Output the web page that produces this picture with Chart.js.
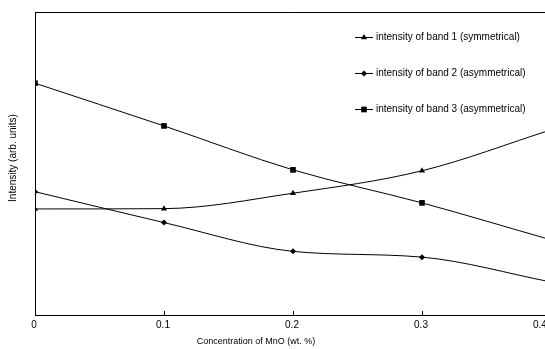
<!DOCTYPE html>
<html>
<head>
<meta charset="utf-8">
<script src="https://cdn.jsdelivr.net/npm/chart.js@4"></script>
<style>
  html, body { margin: 0; padding: 0; background: #fff; overflow: hidden; }
  #wrap { width: 545px; height: 349px; overflow: hidden; position: relative; }
  #box { width: 590px; height: 349px; }
</style>
</head>
<body>
<div id="wrap"><div id="box"><canvas id="chart"></canvas></div></div>
<script>
// concentration of MnO (wt. %)
const concentrations = [0, 0.1, 0.2, 0.3, 0.4];
// intensities in arbitrary units (0..100 over the plot height)
const band1 = [35.0, 35.1, 40.2, 47.6, 61.1];
const band2 = [40.7, 30.5, 21.0, 19.1, 10.9];
const band3 = [76.5, 62.4, 47.9, 37.0, 24.8];
const seriesNames = [
  'intensity of band 1 (symmetrical)',
  'intensity of band 2 (asymmetrical)',
  'intensity of band 3 (asymmetrical)'
];
const xTicks = [0, 0.1, 0.2, 0.3, 0.4];

const FONT = 'Arial, "Liberation Sans", sans-serif';

function makeSet(label, values, style, radius) {
  return {
    label: label,
    data: concentrations.map((x, i) => ({ x: x, y: values[i] })),
    borderColor: '#000',
    backgroundColor: '#000',
    borderWidth: 1,
    pointStyle: style,
    pointRadius: radius,
    pointBorderWidth: 0,
    cubicInterpolationMode: 'monotone',
    fill: false
  };
}

const decor = {
  id: 'decor',
  afterDraw(chart) {
    const ctx = chart.ctx;
    const a = chart.chartArea;
    const xs = chart.scales.x;
    ctx.save();
    // frame top / right
    ctx.strokeStyle = '#000';
    ctx.lineWidth = 1;
    ctx.beginPath();
    ctx.moveTo(a.left, a.top + 0.5);
    ctx.lineTo(a.right + 0.5, a.top + 0.5);
    ctx.lineTo(a.right + 0.5, a.bottom);
    ctx.stroke();
    // inward ticks + labels
    ctx.beginPath();
    xTicks.forEach(v => {
      const px = Math.round(xs.getPixelForValue(v)) + 0.5;
      ctx.moveTo(px, a.bottom);
      ctx.lineTo(px, a.bottom - 4);
    });
    ctx.stroke();
    ctx.fillStyle = '#000';
    ctx.font = '10px ' + FONT;
    ctx.textBaseline = 'middle';
    xs.ticks.forEach((t, i) => {
      const px = xs.getPixelForValue(t.value);
      const last = i === xs.ticks.length - 1;
      ctx.textAlign = last ? 'left' : 'center';
      ctx.fillText(String(t.value), last ? px - 18 : px - 1, a.bottom + 10);
    });
    // axis titles
    ctx.textAlign = 'center';
    ctx.font = '9px ' + FONT;
    ctx.fillText('Concentration of MnO (wt. %)', 256, 342);
    ctx.font = '10px ' + FONT;
    ctx.translate(13, 158);
    ctx.rotate(-Math.PI / 2);
    ctx.fillText('Intensity (arb. units)', 0, 0);
    ctx.restore();

    // legend
    ctx.save();
    const rows = [37, 73, 109];
    chart.data.datasets.forEach((ds, i) => {
      const y = rows[i] + 0.5;
      ctx.strokeStyle = '#000';
      ctx.lineWidth = 1;
      ctx.beginPath();
      ctx.moveTo(355, y);
      ctx.lineTo(373, y);
      ctx.stroke();
      ctx.fillStyle = '#000';
      Chart.helpers.drawPoint(ctx, {
        pointStyle: ds.pointStyle, radius: ds.pointRadius, rotation: 0, borderWidth: 0
      }, 364, y);
      ctx.font = '10px ' + FONT;
      ctx.textAlign = 'left';
      ctx.textBaseline = 'middle';
      ctx.fillText(ds.label, 376, y);
    });
    ctx.restore();
  }
};

new Chart(document.getElementById('chart'), {
  type: 'line',
  data: {
    datasets: [
      makeSet(seriesNames[0], band1, 'triangle', 3.5),
      makeSet(seriesNames[1], band2, 'rectRot', 3),
      makeSet(seriesNames[2], band3, 'rect', 4)
    ]
  },
  options: {
    responsive: true,
    maintainAspectRatio: false,
    animation: false,
    layout: { padding: { top: 12, right: 39, left: 0, bottom: 0 } },
    plugins: { legend: { display: false }, tooltip: { enabled: false } },
    scales: {
      x: {
        type: 'linear',
        min: 0,
        max: 0.4,
        afterFit(s) { s.height = 34; },
        afterBuildTicks(s) { s.ticks = xTicks.map(v => ({ value: v })); },
        grid: { display: false, drawTicks: false },
        border: { display: true, color: '#000', width: 1 },
        ticks: { display: false }
      },
      y: {
        min: 0,
        max: 100,
        afterFit(s) { s.width = 35; },
        grid: { display: false, drawTicks: false },
        border: { display: true, color: '#000', width: 1 },
        ticks: { display: false }
      }
    }
  },
  plugins: [decor]
});
</script>
</body>
</html>
